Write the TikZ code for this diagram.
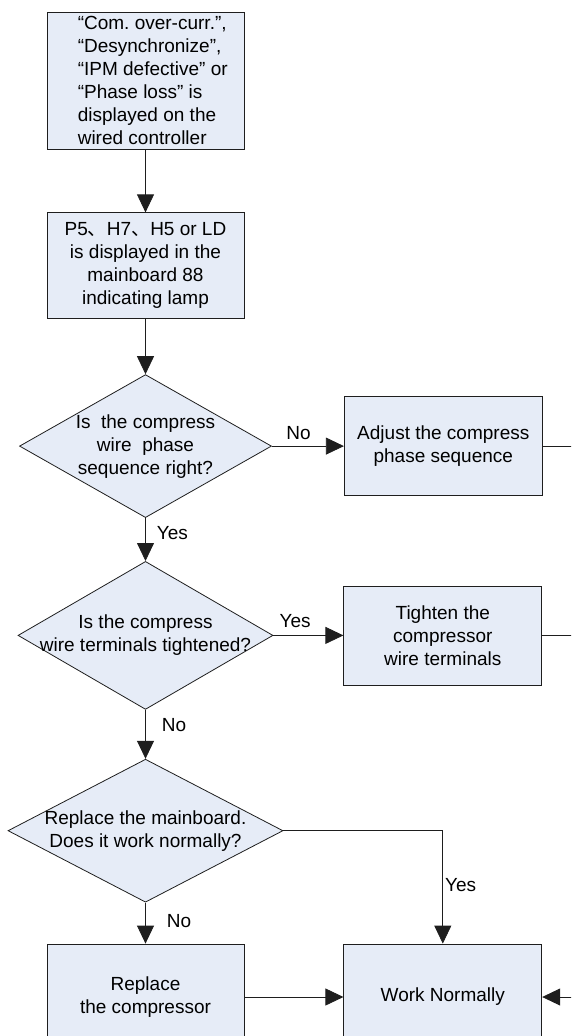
\documentclass[tikz,border=0pt]{standalone}
\usepackage{fontspec}
\setmainfont{Liberation Sans}
\newfontfamily\cjkfont{Noto Sans CJK SC}
\usepackage{xcolor}
\usetikzlibrary{arrows.meta, positioning, shapes.geometric}
\definecolor{flowFill}{HTML}{E6ECF7}
\definecolor{flowLine}{HTML}{1E1E1E}
\frenchspacing

\begin{document}
\begin{tikzpicture}[
  x=1pt, y=-1pt,
  font=\fontsize{19pt}{23pt}\selectfont,
  stepbox/.style={draw=flowLine, fill=flowFill, line width=0.8pt, minimum width=197pt,
                  minimum height=99pt, align=center, inner sep=0pt},
  check/.style={diamond, draw=flowLine, fill=flowFill, line width=0.8pt, inner sep=0pt},
  qtext/.style={align=center, inner sep=0pt},
  ar/.style={-{Triangle[length=18pt, width=17pt]}, draw=flowLine, line width=0.8pt},
  ln/.style={draw=flowLine, line width=0.8pt},
  tag/.style={inner sep=2pt},
]
\useasboundingbox (0,0) rectangle (571,1036);
\clip (0,0) rectangle (571,1036);

\node[stepbox, minimum height=137pt] (alarm) at (145.5,80.5) {};
\node[anchor=west, align=left, inner sep=0pt] (alarmtxt) at ([xshift=31pt]alarm.west)
  {“Com. over-curr.”,\\ “Desynchronize”,\\ “IPM defective” or\\ “Phase loss” is\\
   displayed on the\\ wired controller};
\node[stepbox, minimum height=106pt, below=63pt of alarm] (lamp)
  {P5{\cjkfont 、}H7{\cjkfont 、}H5 or LD\\ is displayed in the\\ mainboard 88\\ indicating lamp};

\node[check, minimum width=252pt, minimum height=143pt, below=55pt of lamp] (phase) {};
\node[qtext] (phasetxt) at (phase) {Is~~the compress\\ wire~~phase\\ sequence right?};
\node[stepbox, minimum width=198pt, right=72pt of phase] (adjust) {Adjust the compress\\ phase sequence};

\node[check, minimum width=255pt, minimum height=148pt, below=43pt of phase] (term) {};
\node[qtext] (termtxt) at (term) {Is the compress\\ wire terminals tightened?};
\node[stepbox, minimum width=198pt, right=70pt of term] (tighten) {Tighten the\\ compressor\\ wire terminals};

\node[check, minimum width=275pt, minimum height=143pt, below=49pt of term] (board) {};
\node[qtext] (boardtxt) at (board) {Replace the mainboard.\\ Does it work normally?};
\node[stepbox, minimum height=106pt, below=41pt of board] (comp) {Replace\\ the compressor};
\node[stepbox, minimum width=198pt, minimum height=106pt, right=99pt of comp] (normal) {Work Normally};

% loose ends running off the right edge
\coordinate (adjOut) at ([xshift=35pt]adjust.east);
\coordinate (tightOut) at ([xshift=35pt]tighten.east);
\coordinate (normIn) at ([xshift=35pt]normal.east);

\draw[ar] (alarm) -- (lamp);
\draw[ar] (lamp) -- (phase);
\draw[ar] (phase) -- node[tag, above=4pt, pos=0.37] {No} (adjust);
\draw[ar] (phase) -- node[tag, right=9pt, pos=0.35] {Yes} (term);
\draw[ar] (term) -- node[tag, above=5pt, pos=0.31] {Yes} (tighten);
\draw[ar] (term) -- node[tag, right=14pt, pos=0.31] {No} (board);
\draw[ar] (board.east) -| node[tag, right=0pt, pos=0.74] {Yes} (normal.north);
\draw[ar] (board) -- node[tag, right=19pt, pos=0.46] {No} (comp);
\draw[ar] (comp) -- (normal);
\draw[ln] (adjust) -- (adjOut);
\draw[ln] (tighten) -- (tightOut);
\draw[ar] (normIn) -- (normal);
\end{tikzpicture}
\end{document}
